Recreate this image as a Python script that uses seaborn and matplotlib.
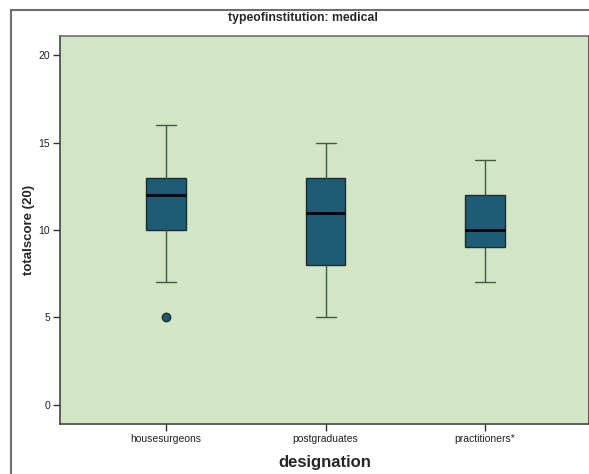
import pandas as pd
import seaborn as sns
import matplotlib.pyplot as plt
from matplotlib.patches import Rectangle

# scores (whisker ends, quartiles, median, outlier)
housesurgeons = [5, 7, 10, 11, 12, 12, 13, 14, 16]
postgraduates = [5, 7, 8, 10, 11, 12, 13, 14, 15]
practitioners = [7, 8, 9, 10, 10, 11, 12, 13, 14]
categories = ["housesurgeons", "postgraduates", "practitioners*"]
y_ticks = [0, 5, 10, 15, 20]

if __name__ == '__main__':
    data = pd.DataFrame({
        "designation": [categories[0]] * len(housesurgeons)
                       + [categories[1]] * len(postgraduates)
                       + [categories[2]] * len(practitioners),
        "totalscore": housesurgeons + postgraduates + practitioners,
    })

    sns.set_style("ticks")
    plt.rcParams['font.family'] = ['Liberation Sans', 'DejaVu Sans']

    fig = plt.figure(figsize=(5.89, 4.74), dpi=100)
    ax = fig.add_axes([60 / 589, 50 / 474, 529 / 589, 388 / 474])
    ax.set_facecolor("#d2e6c6")

    box_color = "#1e5b74"
    line_color = "#3e5a46"
    sns.boxplot(data=data, x="designation", y="totalscore", order=categories,
                color=box_color, saturation=1, width=0.25, ax=ax,
                boxprops=dict(facecolor=box_color, edgecolor="#1a2e2e", linewidth=1.0),
                whiskerprops=dict(color=line_color, linewidth=1.0),
                capprops=dict(color=line_color, linewidth=1.0),
                medianprops=dict(color="black", linewidth=2.0),
                flierprops=dict(marker="o", markerfacecolor=box_color,
                                markeredgecolor="#1a2e2e", markersize=6))

    ax.set_xlim(-0.665, 2.652)
    ax.set_ylim(-1.09, 21.09)
    ax.set_yticks(y_ticks)
    ax.tick_params(axis="both", labelsize=7.5, length=5, width=1,
                   color="#333333", labelcolor="#222222", pad=2)
    for side in ["left", "bottom", "right"]:
        ax.spines[side].set_color("#3b4a40")
        ax.spines[side].set_linewidth(1.2)
    ax.spines["top"].set_color("#6a756c")
    ax.spines["top"].set_linewidth(1.2)

    ax.set_xlabel("designation", fontsize=12, fontweight="bold", labelpad=8)
    ax.set_ylabel("totalscore (20)", fontsize=9.5, fontweight="bold")
    ax.yaxis.set_label_coords((35 - 60) / 529, 0.5)
    fig.text(303 / 589, 1 - 18 / 474, "typeofinstitution: medical",
             ha="center", va="center", fontsize=8.8, fontweight="bold")

    # outer panel frame, cropped on the right and bottom
    fig.patches.append(Rectangle((11 / 589, -0.1), 1.0, 1.1 - 10.5 / 474,
                                 transform=fig.transFigure, fill=False,
                                 edgecolor="#6e6e6e", linewidth=1.5))

    fig.savefig("out.png", dpi=100)
